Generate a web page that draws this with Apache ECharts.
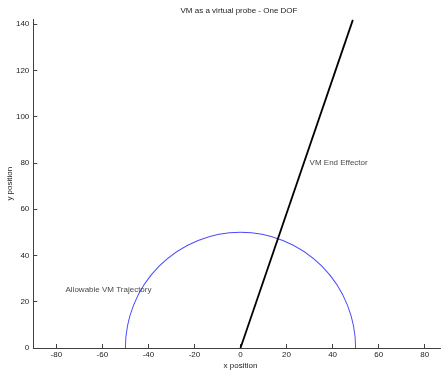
<!DOCTYPE html>
<html>
<head>
<meta charset="utf-8">
<script src="https://cdn.jsdelivr.net/npm/echarts@6/dist/echarts.min.js"></script>
<style>
  html, body { margin: 0; padding: 0; background: #fff; }
  #chart { width: 441px; height: 372px; }
</style>
</head>
<body>
<div id="chart"></div>
<script>
// Axis ticks
var xTicks = [-80, -60, -40, -20, 0, 20, 40, 60, 80];
var yTicks = [0, 20, 40, 60, 80, 100, 120, 140];

// End effector link: base to tip
var effectorPath = [[0, 0], [48.8, 141.8]];

// Allowable trajectory: upper half circle [centerX, centerY, radius]
var trajectory = [[0, 0, 50]];

// Text annotations [x, y, text]
var notes = [
  [30, 80, 'VM End Effector'],
  [-76, 25, 'Allowable VM Trajectory']
];

var FONT = 'Liberation Sans, Arial, sans-serif';
var AXIS_COLOR = '#404040';
var FS = 8;

var chart = echarts.init(document.getElementById('chart'), null, { renderer: 'canvas' });

chart.setOption({
  animation: false,
  backgroundColor: '#ffffff',
  title: {
    text: 'VM as a virtual probe - One DOF',
    left: 239, top: 7, padding: 0, textAlign: 'center',
    textStyle: { fontFamily: FONT, fontSize: FS, fontWeight: 'normal', color: '#222' }
  },
  grid: {
    left: 33.3, right: -6.7, top: 19.4, bottom: 24,
    containLabel: false, outerBoundsMode: 'none'
  },
  xAxis: {
    type: 'value', min: -90, max: 90,
    name: 'x position', nameLocation: 'middle', nameGap: 13.5, nameMoveOverlap: false,
    nameTextStyle: { fontFamily: FONT, fontSize: FS, color: '#222' },
    axisLine: { show: true, onZero: false, lineStyle: { color: AXIS_COLOR, width: 1 } },
    axisTick: { show: true, inside: true, length: 4, customValues: xTicks, lineStyle: { color: AXIS_COLOR } },
    axisLabel: { customValues: xTicks, fontFamily: FONT, fontSize: FS, color: '#222', margin: 3 },
    splitLine: { show: false }
  },
  yAxis: {
    type: 'value', min: 0, max: 142,
    name: 'y position', nameLocation: 'middle', nameGap: 20, nameMoveOverlap: false,
    nameTextStyle: { fontFamily: FONT, fontSize: FS, color: '#222' },
    axisLine: { show: true, onZero: false, lineStyle: { color: AXIS_COLOR, width: 1 } },
    axisTick: { show: true, inside: true, length: 4, customValues: yTicks, lineStyle: { color: AXIS_COLOR } },
    axisLabel: { customValues: yTicks, fontFamily: FONT, fontSize: FS, color: '#222', margin: 4 },
    splitLine: { show: false }
  },
  series: [
    {
      type: 'custom',
      data: trajectory,
      clip: true,
      silent: true,
      renderItem: function (params, api) {
        var c = api.coord([api.value(0), api.value(1)]);
        var r = api.value(2);
        var rx = api.size([r, 0])[0];
        var ry = api.size([0, r])[1];
        return {
          type: 'arc',
          shape: { cx: c[0], cy: c[1], r: rx, startAngle: Math.PI, endAngle: 2 * Math.PI },
          originX: c[0], originY: c[1],
          scaleY: ry / rx,
          style: { fill: null, stroke: '#4a4aff', lineWidth: 1, strokeNoScale: true }
        };
      }
    },
    {
      type: 'line',
      data: effectorPath,
      symbol: 'none',
      lineStyle: { color: '#000', width: 1.8 },
      silent: true
    },
    {
      type: 'scatter',
      data: notes,
      symbolSize: 0,
      silent: true,
      label: {
        show: true, position: 'right', distance: 0,
        formatter: function (p) { return p.value[2]; },
        fontFamily: FONT, fontSize: FS, color: '#111'
      }
    }
  ]
});
</script>
</body>
</html>
